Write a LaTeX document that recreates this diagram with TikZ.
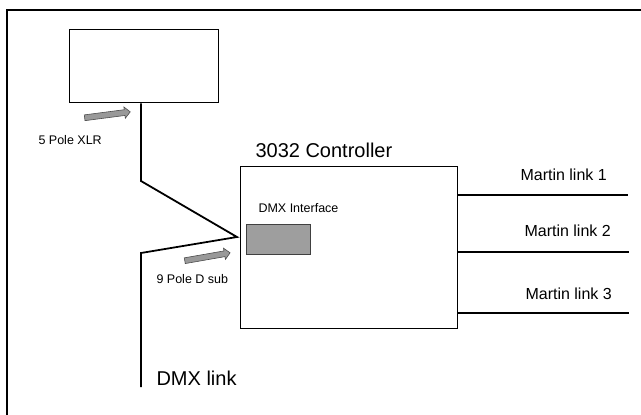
\documentclass[tikz,border=0pt]{standalone}
\usepackage{fontspec}
\setmainfont{Liberation Sans}
\usetikzlibrary{positioning,shapes.arrows}

\begin{document}
\begin{tikzpicture}[x=1pt,y=-1pt,
  box/.style={draw,line width=1.4pt,inner sep=0pt,anchor=north west},
  wire/.style={line width=1.8pt},
  plug/.style={single arrow,draw=black!70,fill=black!40,line width=.6pt,
    minimum height=46pt,single arrow head extend=2.8pt,inner sep=2.6pt},
  small/.style={font=\fontsize{12.5}{12.5}\selectfont,anchor=base west},
  mid/.style={font=\fontsize{16}{16}\selectfont,anchor=base west},
  big/.style={font=\fontsize{20}{20}\selectfont,anchor=base west}]
  \useasboundingbox (0,0) rectangle (641,415);
  \draw [line width=2pt] (7,415) -- (7,10) -- (641,10); %frame

  \node [box,minimum width=149pt,minimum height=73pt] (console) at (69,29) {};
  \node [box,minimum width=217pt,minimum height=162pt] (controller) at (240,166) {};
  \node [box,draw=black!75,fill=black!38,line width=.8pt,minimum width=64pt,minimum height=30pt] (iface) at (246,224) {};

  \node [big] (ctrl) at (252,157) {3032 Controller};
  \node [small] (ifacetext) at (255,212) {DMX Interface};
  \node [small] (xlr) at (35,144) {5 Pole XLR};
  \node [small] (dsub) at (153,283) {9 Pole D sub};
  \node [big] (dmx) at (153,385) {DMX link};

  \node [plug,rotate=7.4] (xlrplug) at (106,115) {};
  \node [plug,rotate=9.9] (dsubplug) at (206,257) {};

  % DMX cable
  \coordinate (bend1) at (141,181);
  \coordinate (tip) at (237,237);
  \coordinate (bend2) at (141,253);
  \coordinate (dmxend) at (141,387);
  \draw [wire] (console.south -| bend1) -- (bend1) -- (tip) -- (bend2) -- (dmxend);

  % Martin links
  \coordinate (l1) at (628,195);
  \coordinate (l2) at (629,252);
  \coordinate (l3) at (629,313);
  \draw [wire] (controller.east |- l1) -- (l1);
  \draw [wire] (controller.east |- l2) -- (l2);
  \draw [wire] (controller.east |- l3) -- (l3);
  \node [mid] (m1) at (517,180) {Martin link 1};
  \node [mid] (m2) at (521,236) {Martin link 2};
  \node [mid] (m3) at (522,299) {Martin link 3};
\end{tikzpicture}
\end{document}
